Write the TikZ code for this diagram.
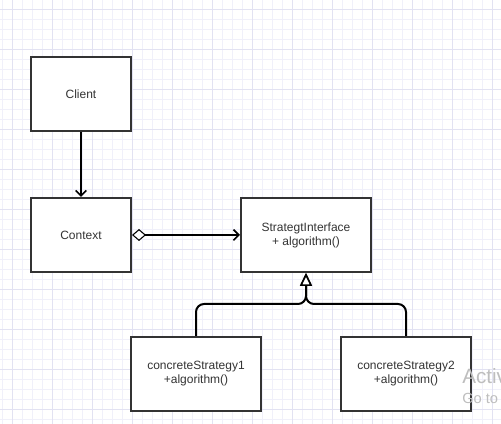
\documentclass[tikz,border=0pt]{standalone}
\usepackage{fontspec}
\setmainfont{Liberation Sans}
\usepackage{xcolor}
\usetikzlibrary{arrows.meta,positioning,calc}

\definecolor{boxgray}{RGB}{51,51,51}
\definecolor{minorline}{RGB}{240,240,250}
\definecolor{majorline}{RGB}{226,226,242}
\definecolor{mark}{RGB}{190,190,190}

\begin{document}
\begin{tikzpicture}[x=0.75pt, y=-0.75pt,
  umlbox/.style={draw=boxgray, line width=1.5pt, fill=white, rectangle,
    minimum height=55.5pt, align=center, text=boxgray, font=\fontsize{9}{10.5}\selectfont},
  small/.style={umlbox, minimum width=75pt},
  wide/.style={umlbox, minimum width=97.5pt},
  link/.style={line width=1.5pt, black},
  assoc/.style={link, -{Straight Barb[length=4pt, width=8pt, line width=1.2pt]}},
  aggr/.style={link, {Diamond[open, fill=white, length=10.5pt, width=9pt, line width=0.8pt]}-{Straight Barb[length=4pt, width=8pt, line width=1.2pt]}},
  gen/.style={link, rounded corners=6pt, -{Triangle[open, fill=white, length=9.75pt, width=9pt, line width=1.2pt]}}
]
\useasboundingbox (0,0) rectangle (501,424);
\fill[white] (0,0) rectangle (501,424);
% background grid
\foreach \x in {2,12,...,502}
  \draw[minorline, line width=0.75pt] (\x,0) -- (\x,424);
\foreach \y in {0,10,...,424}
  \draw[minorline, line width=0.75pt] (0,\y) -- (501,\y);
\foreach \x in {12,52,...,502}
  \draw[majorline, line width=0.75pt] (\x,0) -- (\x,424);
\foreach \y in {10,50,...,424}
  \draw[majorline, line width=0.75pt] (0,\y) -- (501,\y);

\node[small] (client) at (81,94) {Client};
\node[small] (context) at (81,235) {Context};
\node[wide] (iface) at (306,235) {StrategtInterface\\+ algorithm()};
\node[wide] (cs1) at (196,374) {concreteStrategy1\\+algorithm()};
\node[wide] (cs2) at (406,374) {concreteStrategy2\\+algorithm()};
\coordinate (join) at (306,304);

\draw[assoc] (client.south) -- (context.north);
\draw[aggr] (context.east) -- (iface.west);
\draw[gen] (cs1.north) |- (join) -- (iface.south);
\draw[gen] (cs2.north) |- (join) -- (iface.south);

% watermark
\node[anchor=west, inner sep=0pt, text=mark, font=\fontsize{15.5}{18}\selectfont] (act) at (462,376) {Activ};
\node[anchor=west, inner sep=0pt, text=mark, font=\fontsize{11}{13}\selectfont] (goto) at (462,398) {Go to};
\end{tikzpicture}
\end{document}
